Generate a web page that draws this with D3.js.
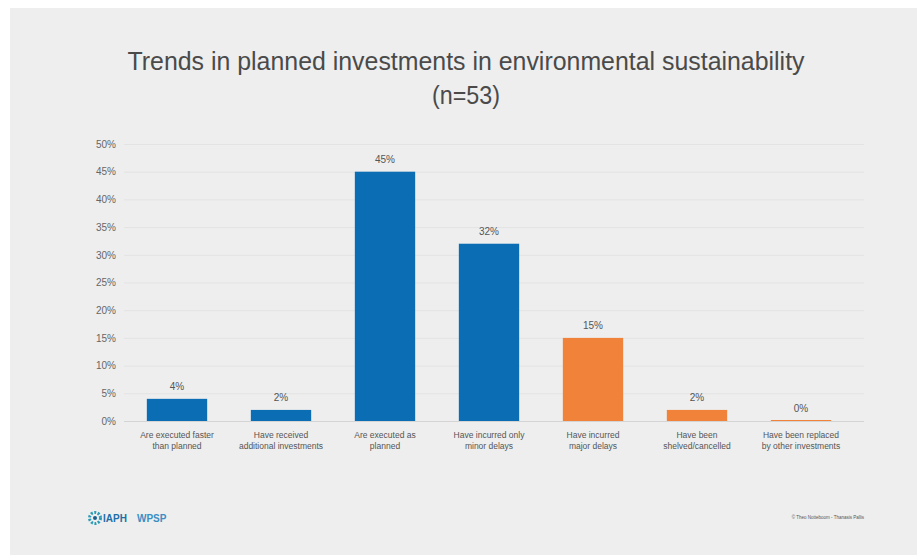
<!DOCTYPE html>
<html><head><meta charset="utf-8">
<script src="https://cdn.jsdelivr.net/npm/d3@7"></script>
<style>
html,body{margin:0;padding:0;background:#fff;}
svg{display:block;}
</style></head>
<body>
<svg id="chart" width="921" height="556"></svg>
<script>
const titleLines = ["Trends in planned investments in environmental sustainability", "(n=53)"];
const categories = [
  ["Are executed faster", "than planned"],
  ["Have received", "additional investments"],
  ["Are executed as", "planned"],
  ["Have incurred only", "minor delays"],
  ["Have incurred", "major delays"],
  ["Have been", "shelved/cancelled"],
  ["Have been replaced", "by other investments"]
];
const values = [4, 2, 45, 32, 15, 2, 0];
const groups = ["blue", "blue", "blue", "blue", "orange", "orange", "orange"];
const yTicks = [0, 5, 10, 15, 20, 25, 30, 35, 40, 45, 50];
const footerLeft = ["IAPH", "WPSP"];
const footerRight = "© Theo Notteboom - Thanasis Pallis";

const colors = {blue: "#0b6db3", orange: "#f0823a"};
const svg = d3.select("#chart");

svg.append("rect").attr("x", 10).attr("y", 8).attr("width", 907).attr("height", 547).attr("fill", "#eeeeee");

const x = d3.scaleBand().domain(d3.range(values.length)).range([125, 853]).paddingInner(0.42).paddingOuter(0.21);
const y = d3.scaleLinear().domain([0, 50]).range([421, 144]);

// gridlines
svg.append("g").selectAll("line").data(yTicks).join("line")
  .attr("x1", 124).attr("x2", 864)
  .attr("y1", d => y(d) + 0.5).attr("y2", d => y(d) + 0.5)
  .attr("stroke", d => d === 0 ? "#d4d4d4" : "#e3e3e3").attr("stroke-width", 1);

// y axis
const yAxis = d3.axisLeft(y).tickValues(yTicks).tickFormat(d => d + "%").tickSize(0).tickPadding(0);
const gy = svg.append("g").attr("transform", "translate(116,0)").call(yAxis);
gy.select(".domain").remove();
gy.selectAll("text").attr("font-family", "Liberation Sans, Arial, sans-serif").attr("font-size", 10).attr("fill", "#666");

// bars
svg.append("g").selectAll("rect").data(values).join("rect")
  .attr("x", (d, i) => x(i))
  .attr("width", x.bandwidth())
  .attr("y", d => d === 0 ? y(0) - 1 : y(d))
  .attr("height", d => d === 0 ? 1 : y(0) - y(d))
  .attr("fill", (d, i) => colors[groups[i]]);

// value labels
svg.append("g").selectAll("text").data(values).join("text")
  .attr("x", (d, i) => x(i) + x.bandwidth() / 2)
  .attr("y", d => y(d) - 9)
  .attr("text-anchor", "middle")
  .attr("font-family", "Liberation Sans, Arial, sans-serif")
  .attr("font-size", 10).attr("fill", "#555")
  .text(d => d + "%");

// category labels
const cl = svg.append("g").selectAll("text").data(categories).join("text")
  .attr("text-anchor", "middle")
  .attr("font-family", "Liberation Sans, Arial, sans-serif")
  .attr("font-size", 8.5).attr("fill", "#555");
cl.each(function(d, i) {
  const t = d3.select(this);
  d.forEach((line, k) => {
    t.append("tspan").attr("x", x(i) + x.bandwidth() / 2).attr("y", 438 + k * 11).text(line);
  });
});

// title
svg.append("text").attr("x", 466).attr("y", 70)
  .attr("text-anchor", "middle")
  .attr("font-family", "Liberation Sans, Arial, sans-serif")
  .attr("font-size", 25).attr("fill", "#4a4a4a")
  .attr("textLength", 677).attr("lengthAdjust", "spacingAndGlyphs")
  .text(titleLines[0]);
svg.append("text").attr("x", 466).attr("y", 104)
  .attr("text-anchor", "middle")
  .attr("font-family", "Liberation Sans, Arial, sans-serif")
  .attr("font-size", 25).attr("fill", "#4a4a4a")
  .attr("textLength", 68).attr("lengthAdjust", "spacingAndGlyphs")
  .text(titleLines[1]);

// footer logo
const logo = svg.append("g").attr("transform", "translate(95,518)");
logo.append("circle").attr("r", 5.5).attr("fill", "none").attr("stroke", "#2a9bb5").attr("stroke-width", 3).attr("stroke-dasharray", "2 1.5");
logo.append("circle").attr("r", 2).attr("fill", "#1b5f8f");
logo.append("text").attr("x", 8).attr("y", 3.5).attr("font-family", "Liberation Sans, Arial, sans-serif")
  .attr("font-size", 10).attr("font-weight", "bold").attr("fill", "#1d6fa8").text(footerLeft[0]);
logo.append("text").attr("x", 42).attr("y", 3.5).attr("font-family", "Liberation Sans, Arial, sans-serif")
  .attr("font-size", 10).attr("font-weight", "bold").attr("fill", "#3a8fc4").text(footerLeft[1]);

svg.append("text").attr("x", 864).attr("y", 519).attr("text-anchor", "end")
  .attr("font-family", "Liberation Sans, Arial, sans-serif").attr("font-size", 4.5).attr("fill", "#555")
  .text(footerRight);
</script>
</body></html>
